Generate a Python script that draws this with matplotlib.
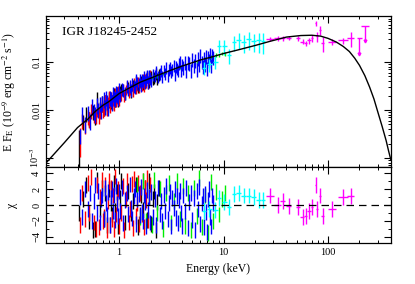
import matplotlib
matplotlib.use("Agg")
import matplotlib.pyplot as plt
from matplotlib.ticker import MultipleLocator

plt.rcParams['font.family'] = ['Liberation Serif', 'DejaVu Serif']
plt.rcParams['mathtext.fontset'] = 'stix'

# modelo
model_e = [0.2, 0.3, 0.4, 0.5, 0.6, 0.7, 0.8, 1.0, 1.3, 1.6, 2.0, 3.0, 4.0, 6.0, 8.0,
           10, 14, 20, 28, 40, 55, 70, 85, 100, 120, 140, 160, 180, 200, 225,
           250, 275, 300, 330, 360, 380, 400]
model_f = [7.9e-4, 2.1e-3, 4.3e-3, 6.4e-3, 9.6e-3, 0.0125, 0.015, 0.022, 0.030, 0.038,
           0.046, 0.065, 0.082, 0.11, 0.13, 0.15, 0.18, 0.22, 0.27, 0.33, 0.355,
           0.36, 0.345, 0.31, 0.26, 0.21, 0.165, 0.12, 0.085, 0.052, 0.03, 0.017,
           0.009, 4.5e-3, 2.3e-3, 1.4e-3, 9e-4]

# negro
black_e = [0.41, 0.45, 0.48, 0.52, 0.56, 0.59, 0.62, 0.65, 0.68, 0.71, 0.74, 0.77, 0.80,
           0.83, 0.86, 0.89, 0.92, 0.95, 0.98, 1.01,
           1.05, 1.13, 1.21, 1.29, 1.37, 1.45, 1.53, 1.61, 1.69, 1.77, 1.85, 1.93, 2.01,
           2.09, 2.17, 2.25, 2.33, 2.41]
black_f = [0.0020, 0.0058, 0.0085, 0.0067, 0.0094, 0.0074, 0.0172, 0.0110, 0.0142, 0.0115,
           0.0150, 0.0122, 0.0173, 0.0159, 0.0151, 0.0214, 0.0178, 0.0218, 0.0178, 0.0233,
           0.0278, 0.0226, 0.0297, 0.0247, 0.0324, 0.0394, 0.0312, 0.0403, 0.0367, 0.0405,
           0.0509, 0.0399, 0.0508, 0.0452, 0.0491, 0.0581, 0.0468, 0.0561]
black_rel = [0.95] + [0.35] * 19 + [0.28] * 18
black_chi = [-1.0, 0.8, 2.5, -2.0, -3.2, -3.0, 3.2, -0.5, 2.2, -1.8, 1.5, -2.5, 2.0, 0.3,
             -1.2, 2.8, -0.8, 1.6, -2.6, 0.9, 3.0, -2.2, 1.8, -1.0, 0.5, 2.6, -2.8, 1.3,
             -0.6, 2.1, -1.9, 3.0, -2.4, 0.8, 1.7, -3.1, 0.4, 2.2]

# rojo
red_e = [0.42, 0.44, 0.47, 0.50, 0.52, 0.54, 0.57, 0.60, 0.62, 0.64, 0.66, 0.68, 0.70,
         0.72, 0.74, 0.76, 0.78, 0.80, 0.82, 0.84, 0.86, 0.88, 0.90, 0.92, 0.94, 0.96,
         0.98, 1.00,
         1.04, 1.08, 1.12, 1.16, 1.20, 1.24, 1.28, 1.32, 1.36, 1.40, 1.44, 1.48, 1.52,
         1.56, 1.60, 1.64, 1.68, 1.72, 1.76, 1.80, 1.84, 1.88, 1.92, 1.96]
red_f = [0.0026, 0.0062, 0.0048, 0.0074, 0.0066, 0.0098, 0.0081, 0.0077, 0.0111, 0.0080,
         0.0102, 0.0137, 0.0106, 0.0118, 0.0151, 0.0114, 0.0139, 0.0181, 0.0133, 0.0178,
         0.0151, 0.0183, 0.0145, 0.0216, 0.0175, 0.0201, 0.0230, 0.0184,
         0.0207, 0.0275, 0.0199, 0.0271, 0.0322, 0.0236, 0.0273, 0.0327, 0.0245, 0.0379,
         0.0293, 0.0335, 0.0397, 0.0301, 0.0382, 0.0337, 0.046, 0.0314, 0.0442, 0.0391,
         0.0485, 0.0366, 0.0463, 0.054]
red_rel = [0.6] + [0.35] * 27 + [0.25] * 24
red_chi = [-2.5, 1.5, -1.8, 2.8, -1.0, 3.5, -2.2, -3.0, 2.5, -2.8, 1.0, 3.2, -2.0, -1.5,
           2.6, -3.2, 0.5, 3.0, -2.5, 2.2, -1.8, 1.2, -3.0, 3.6, -1.2, 0.4, 2.0, -2.6,
           -1.0, 2.4, -3.1, 0.8, 3.0, -2.2, -0.5, 2.7, -2.9, 3.3, -1.4, 0.2, 2.8, -2.4,
           1.5, -1.1, 3.1, -2.8, 2.2, 0.6, 3.4, -1.9, 1.0, 2.6]

# verde
green_e = [1.50, 1.60, 1.70, 1.81, 1.93, 2.05, 2.18, 2.32, 2.47, 2.63, 2.80, 2.98, 3.17,
           3.37, 3.59, 3.82, 4.06, 4.32, 4.60, 4.89, 5.20, 5.53, 5.88, 6.26, 6.66, 7.08,
           7.53, 8.01, 8.52, 9.06, 9.64, 10.25]
green_f = [0.036, 0.0363, 0.0414, 0.0408, 0.0477, 0.0466, 0.0509, 0.0498, 0.0573, 0.0562,
           0.0628, 0.0616, 0.0709, 0.0696, 0.0763, 0.0756, 0.086, 0.0832, 0.0919, 0.0881,
           0.1012, 0.0974, 0.1067, 0.1047, 0.1186, 0.1154, 0.1277, 0.1248, 0.1404, 0.1372,
           0.1489, 0.1474]
green_rel = [0.05] * 24 + [0.08] * 8
green_chi = [2.5, -1.5, 3.0, -2.0, 1.0, -2.5, 3.2, -1.0, 2.0, -3.0, 1.5, 2.8, -2.2, 0.5,
             3.0, -1.8, 2.4, -2.6, 1.5, -3.2, 2.2, -1.4, 3.4, -2.8, 1.2, -3.5, 2.9, -2.0,
             1.6, -1.2, 0.8, 1.5]

# azul
blue_e = [0.42, 0.44, 0.47, 0.50, 0.53, 0.55, 0.57, 0.59, 0.61, 0.63, 0.65, 0.67, 0.69,
          0.71, 0.73, 0.75, 0.77, 0.79, 0.81, 0.83, 0.85, 0.87, 0.89, 0.91, 0.93, 0.95,
          0.97, 0.99,
          1.02, 1.06, 1.10, 1.14, 1.18, 1.22, 1.26, 1.30, 1.34, 1.38, 1.42, 1.46, 1.50,
          1.54, 1.58, 1.62, 1.66, 1.70, 1.74, 1.78, 1.82, 1.86, 1.90, 1.94, 1.98,
          2.04, 2.12, 2.20, 2.28, 2.36, 2.44, 2.52, 2.60, 2.68, 2.76, 2.84, 2.92, 3.00,
          3.08, 3.16, 3.24, 3.32, 3.40, 3.48, 3.56, 3.64, 3.72, 3.80, 3.88, 3.96,
          4.08, 4.24, 4.40, 4.56, 4.72, 4.88, 5.04, 5.20, 5.36, 5.52, 5.68, 5.84, 6.00,
          6.16, 6.32, 6.48, 6.64, 6.80, 6.96, 7.12, 7.28, 7.44, 7.60, 7.76, 7.92]
blue_f = [0.0030, 0.0085, 0.0052, 0.0090, 0.0060, 0.0123, 0.0097, 0.0084, 0.0129, 0.0104,
          0.0138, 0.0099, 0.0146, 0.0173, 0.0121, 0.0182, 0.0151, 0.0118, 0.0184, 0.0175,
          0.0149, 0.0222, 0.0187, 0.0175, 0.0229, 0.0218, 0.0185, 0.0266,
          0.0214, 0.0281, 0.0268, 0.0229, 0.0329, 0.0273, 0.0324, 0.0263, 0.0362, 0.0327,
          0.0305, 0.0429, 0.0374, 0.035, 0.0431, 0.0332, 0.0435, 0.0407, 0.0498, 0.0387,
          0.0459, 0.0511, 0.0392, 0.0513, 0.0478,
          0.042, 0.0554, 0.0521, 0.0638, 0.0499, 0.0593, 0.0665, 0.0511, 0.0669, 0.0597,
          0.0794, 0.0532, 0.0704, 0.0785, 0.0636, 0.0717, 0.0873, 0.057, 0.0835, 0.0741,
          0.068, 0.0924, 0.1019, 0.0678, 0.0894,
          0.0789, 0.102, 0.0696, 0.1024, 0.0956, 0.0698, 0.1181, 0.0869, 0.1084, 0.0704,
          0.123, 0.0888, 0.1378, 0.1026, 0.0825, 0.1232, 0.0912, 0.1334, 0.0764, 0.1255,
          0.1094, 0.1482, 0.0879, 0.1403, 0.129]
blue_rel = [0.35] * 28 + [0.3] * 25 + [0.28] * 25 + [0.32] * 25
blue_chi = [1.0, -1.5, 2.0, -0.5, 1.5, -2.0, 0.5, 2.5, -1.0, 1.8, -2.2, 0.8, 1.2, -1.8,
            2.2, 0.3, -1.2, 1.6, -2.5, 0.9, 2.0, -0.7, 1.3, -1.9, 2.4, 0.2, -1.4, 1.7,
            -0.8, 2.1, -2.3, 0.6, 1.5, -1.1, 2.6, -0.4, -1.7, 1.1, 2.0, -2.4, 0.7, 1.4,
            -1.3, 2.3, -0.9, -2.0, 1.2, 0.4, -2.6, 1.9, -0.6, 1.0, -2.2,
            1.6, -1.5, 0.8, -2.5, 2.2, -1.2, 0.5, -2.0, 1.3, -0.7, 2.4, -1.8, 0.3, 1.7,
            -2.7, 0.9, -0.4, 2.0, -1.6, 1.1, -2.3, 0.6, 1.8, -1.0, -2.6,
            1.2, -0.8, 2.1, -2.9, 0.4, 1.5, -1.9, 0.9, -3.2, 1.8, -0.5, 2.3, -2.4, 0.2,
            1.1, -2.8, 1.4, -0.9, -3.4, 0.7, 2.0, -1.5, -2.7, 1.2, 0.3]

# cian
cyan_e = [6.5, 7.3, 8.3, 9.1, 10.2, 11.3, 12.6, 14.0, 15.6, 17.4, 19.4, 21.6, 24.0]
cyan_de = [0.35, 0.4, 0.45, 0.4, 0.5, 0.55, 0.6, 0.7, 0.8, 0.9, 1.0, 1.1, 1.2]
cyan_f = [0.075, 0.09, 0.10, 0.22, 0.21, 0.14, 0.26, 0.29, 0.26, 0.30, 0.27, 0.28, 0.27]
cyan_rel = [0.3, 0.3, 0.3, 0.3, 0.35, 0.35, 0.35, 0.35, 0.4, 0.4, 0.4, 0.45, 0.45]
cyan_chi = [-0.8, -0.5, -0.6, 0.9, 0.4, -0.3, 1.4, 1.5, 1.2, 1.2, 1.0, 0.6, 0.6]

# magenta
mag_e = [28, 33, 37, 42, 52, 57, 61, 66, 70, 76, 79, 84, 89, 110, 140, 165]
mag_de = [2.5, 2.5, 2.0, 2.5, 2.5, 2.5, 2.0, 2.5, 2.0, 1.5, 2.0, 2.5, 2.5, 10, 15, 12]
mag_f = [0.30, 0.31, 0.31, 0.32, 0.31, 0.265, 0.245, 0.28, 0.31, 0.64, 0.34, 0.46,
         0.245, 0.265, 0.28, 0.31]
mag_rel = [0.08, 0.1, 0.1, 0.1, 0.12, 0.12, 0.12, 0.15, 0.15, 0.12, 0.25, 0.2, 0.35,
           0.15, 0.15, 0.35]
mag_chi = [1.2, 0.0, 0.5, -0.1, -0.3, -1.5, -1.4, -0.7, -0.3, 2.5, -0.5, 1.2, -1.4,
           -0.5, 1.0, 1.1]

# limites superiores (magenta)
ul_e = [200, 225]
ul_de = [10, 20]
ul_f = [0.31, 0.56]
ul_low = [0.15, 0.27]

yticks_top = [1e-3, 0.01, 0.1]
ytick_labels_top = ['10$^{-3}$', '0.01', '0.1']
yticks_res = [-4, -2, 0, 2, 4]
ytick_labels_res = ['\u22124', '\u22122', '0', '2', '4']
xticks = [1, 10, 100]
xtick_labels = ['1', '10', '100']


def barras(ax, e, f, rel, color, de=None):
    lo = [v * min(r, 0.999) for v, r in zip(f, rel)]
    hi = [v * r for v, r in zip(f, rel)]
    ax.errorbar(e, f, yerr=[lo, hi], xerr=de, fmt='none', ecolor=color,
                elinewidth=1.0, capsize=0)


def residuos(ax, e, chi, color, de=None):
    ax.errorbar(e, chi, yerr=1.0, xerr=de, fmt='none', ecolor=color,
                elinewidth=1.0, capsize=0)


fig = plt.figure(figsize=(4.15, 2.84), dpi=100)
ax1 = fig.add_axes([0.111, 0.412, 0.831, 0.532])
ax2 = fig.add_axes([0.111, 0.144, 0.831, 0.268], sharex=ax1)

barras(ax1, black_e, black_f, black_rel, 'black')
barras(ax1, red_e, red_f, red_rel, 'red')
barras(ax1, green_e, green_f, green_rel, '#00ee00')
barras(ax1, blue_e, blue_f, blue_rel, 'blue')
barras(ax1, cyan_e, cyan_f, cyan_rel, 'cyan', cyan_de)
barras(ax1, mag_e, mag_f, mag_rel, 'magenta', mag_de)
ax1.errorbar(ul_e, ul_f, xerr=ul_de,
             yerr=[[a - b for a, b in zip(ul_f, ul_low)], [0, 0]],
             fmt='none', ecolor='magenta', elinewidth=1.0, capsize=0)
ax1.plot(ul_e, ul_low, 'v', color='magenta', ms=2)
ax1.plot(model_e, model_f, color='black', lw=1.0)

ax1.set_xscale('log')
ax1.set_yscale('log')
ax1.set_xlim(0.2, 400)
ax1.set_ylim(6.5e-4, 0.91)
ax1.set_yticks(yticks_top)
ax1.set_yticklabels(ytick_labels_top, rotation=90, va='center')
ax1.set_ylabel('E F$_{\\mathrm{E}}$ (10$^{-9}$ erg cm$^{-2}$ s$^{-1}$)', fontsize=8.5)
ax1.text(0.045, 0.93, 'IGR J18245-2452', transform=ax1.transAxes, fontsize=9.5,
         va='top', ha='left')
ax1.tick_params(labelbottom=False)

residuos(ax2, black_e, black_chi, 'black')
residuos(ax2, red_e, red_chi, 'red')
residuos(ax2, green_e, green_chi, '#00ee00')
residuos(ax2, blue_e, blue_chi, 'blue')
residuos(ax2, cyan_e, cyan_chi, 'cyan', cyan_de)
residuos(ax2, mag_e, mag_chi, 'magenta', mag_de)
ax2.axhline(0, color='black', lw=0.9, ls=(0, (6, 4)))
ax2.set_ylim(-4.8, 4.8)
ax2.set_yticks(yticks_res)
ax2.set_yticklabels(ytick_labels_res, rotation=90, va='center')
ax2.set_xticks(xticks)
ax2.set_xticklabels(xtick_labels)
ax2.set_ylabel('\u03c7', fontsize=8.5)
ax2.set_xlabel('Energy (keV)', fontsize=8.5)

for ax in (ax1, ax2):
    ax.tick_params(which='both', direction='in', top=True, right=True, labelsize=7.5)
    ax.tick_params(which='major', length=5, width=0.8)
    ax.tick_params(which='minor', length=2.5, width=0.7)
    for s in ax.spines.values():
        s.set_linewidth(0.9)
ax2.yaxis.set_minor_locator(MultipleLocator(1))
ax1.yaxis.set_label_coords(-0.08, 0.5)
ax2.yaxis.set_label_coords(-0.08, 0.5)

fig.savefig('out.png', dpi=100)
